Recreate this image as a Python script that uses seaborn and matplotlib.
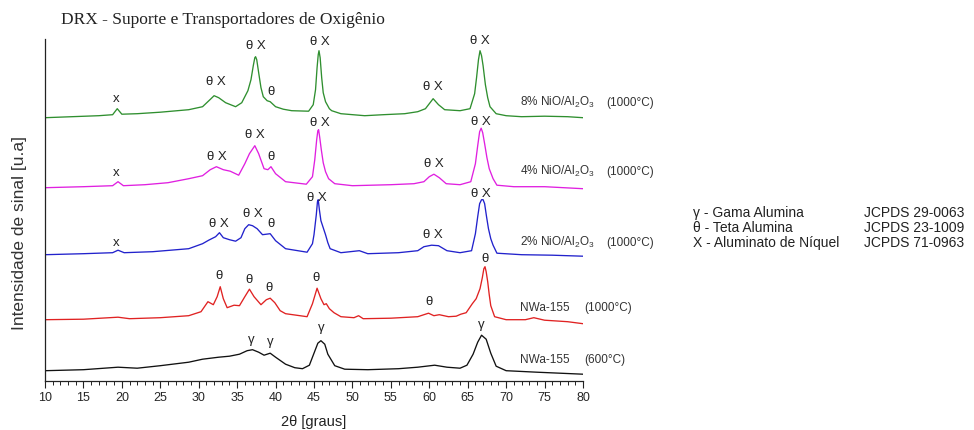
import matplotlib
matplotlib.use("Agg")
import matplotlib.pyplot as plt
from matplotlib.ticker import MultipleLocator
import seaborn as sns

# --- data: 2theta [graus] and intensity above each trace's baseline [u.a] ---
tt_8 = [10, 13.5, 17, 18.8, 19.4, 20.0, 22, 25, 28.7, 30.5, 31.6, 32.0, 32.6, 33.5, 34.8, 35.6, 36.4, 36.8,
        37.1, 37.3, 37.4, 37.55, 37.8, 38.1, 38.4, 38.9, 39.3, 40.0, 41.0, 42.1, 44.3, 44.9, 45.2, 45.4,
        45.55, 45.65, 45.8, 46.0, 46.2, 46.5, 47.0, 47.3, 48.5, 51.6, 54, 56.8, 58.5, 59.5, 60.5, 61.2,
        62.0, 64.0, 65.3, 65.9, 66.15, 66.4, 66.6, 66.8, 67.0, 67.3, 67.6, 67.9, 68.7, 70, 72, 75, 78, 80]
i_8 = [0, 1, 2, 3, 9, 3.5, 4, 5.5, 8, 11, 19, 22, 20, 15, 11, 15, 27, 38,
       52, 60, 61, 58, 45, 30, 21, 17, 16, 11, 8.5, 7, 6.5, 13, 28, 50,
       63, 67, 60, 40, 25, 16, 9, 7, 4, 2, 3, 4, 6, 9, 19, 13,
       8, 7, 9, 24, 40, 58, 67, 62, 52, 33, 20, 11, 4, 2, 1, 1.5, 1, 0]

tt_4 = [10, 15, 18.8, 19.5, 20.2, 23, 26, 28.7, 30.5, 31.5, 32.3, 33.2, 34.1, 35.2, 36.0, 36.6, 37.3,
        37.8, 38.5, 39.0, 39.4, 40.0, 41.3, 44.0, 44.8, 45.1, 45.35, 45.5, 45.6, 45.75, 45.95, 46.2,
        46.5, 46.9, 47.7, 50, 55, 58.0, 59.3, 60.0, 60.6, 61.3, 62.2, 64.0, 65.4, 66.0, 66.3, 66.55,
        66.75, 66.95, 67.2, 67.5, 67.8, 68.3, 68.8, 71, 75, 80]
i_4 = [0, 1, 2, 6, 2, 3, 5, 9, 12, 18, 21, 18, 16.5, 12.5, 24, 34, 42,
       34, 19, 18, 21, 14, 6, 3.5, 11, 28, 48, 57, 58, 50, 38, 25,
       16, 9, 4, 2, 3, 4, 6, 11, 13.5, 10, 4, 3, 6, 24, 42, 56,
       59.5, 55, 44, 30, 19, 9, 2.5, 1, 1, -1]

tt_2 = [10, 15, 18.8, 19.5, 20.3, 24, 28.7, 30.5, 31.3, 32.2, 32.7, 33.2, 34.0, 34.8, 35.5, 36.0, 36.5,
        37.0, 37.6, 38.3, 39.3, 40.0, 41.3, 44.1, 44.8, 45.0, 45.3, 45.45, 45.55, 45.7, 45.9, 46.2,
        46.5, 46.8, 47.1, 48.5, 50.9, 52, 56, 58.5, 59.3, 60.3, 61.2, 62.3, 64.0, 65.5, 66.0, 66.3,
        66.55, 66.8, 67.0, 67.2, 67.45, 67.7, 68.0, 68.3, 68.8, 72, 76, 80]
i_2 = [0, 1, 2, 4.5, 2, 3, 6, 11, 14.5, 18, 22, 17, 15, 13.5, 17, 26, 30,
       29, 26, 20, 21, 14, 6, 2.5, 11, 20, 40, 53, 55, 45, 34, 27,
       20, 12, 6, 2, 4, 1, 2, 4, 8, 9.5, 9, 4, 2, 4, 21, 38,
       51, 55, 55, 51, 38, 26, 16, 9.5, 1.5, 0, -0.5, -1.5]

tt_n1000 = [10, 15, 19.5, 21, 25, 28.7, 30.3, 31.2, 31.9, 32.4, 32.8, 33.2, 33.7, 34.6, 35.3, 36.0, 36.6,
            37.2, 38.1, 38.8, 39.3, 39.9, 40.6, 41.3, 44.1, 44.8, 45.4, 45.9, 46.3, 46.6, 47.0, 47.6,
            48.5, 50.2, 50.8, 51.4, 55, 58.5, 59.9, 60.6, 61.3, 62.5, 63.5, 64.1, 64.8, 65.6, 66.1,
            66.6, 66.9, 67.1, 67.25, 67.4, 67.6, 67.8, 68.0, 68.5, 70, 72.5, 73.6, 75, 78, 80]
i_n1000 = [0, 0.5, 2.5, 1, 2, 4, 8, 18, 15, 23, 33, 21, 12, 14.5, 14, 23, 30.5,
           23, 15, 20, 21.5, 17, 9, 6, 3, 16, 31.5, 21, 15, 16, 11, 7,
           3, 2, 4, 1, 1.5, 3, 6.5, 4, 5, 3, 3.5, 5.5, 7, 16, 21,
           31, 42, 51, 53, 48, 38, 25, 14, 3, 0, 0, 2, -0.5, -2, -4]

tt_n600 = [10, 15, 19.5, 22, 25, 28.7, 30.5, 32.6, 34.0, 35.3, 36.3, 37.0, 37.8, 38.5, 39.3, 40.0, 41.3,
           42.5, 43.5, 44.4, 44.9, 45.5, 45.9, 46.4, 46.8, 47.7, 49, 52, 56, 58.5, 60.7, 62.3, 64.0,
           64.9, 65.7, 66.3, 66.8, 67.4, 68.0, 68.7, 70, 74, 80]
i_n600 = [0, 1, 3.5, 2.5, 5, 8.5, 11.5, 13.5, 14.5, 16.5, 20, 21, 18.5, 15.5, 17.5, 13.5, 6.5,
          3, 2, 5.5, 15.5, 27.5, 30, 26.5, 16.5, 5, 1.5, 1, 2, 3.5, 5.5, 3.5, 2.5,
          5.5, 16.5, 28.5, 35.5, 31.5, 17.5, 4.5, 0, -1.5, -3.5]

samples = ["8% NiO/Al$_2$O$_3$", "4% NiO/Al$_2$O$_3$", "2% NiO/Al$_2$O$_3$", "NWa-155", "NWa-155"]
temps = ["(1000°C)", "(1000°C)", "(1000°C)", "(1000°C)", "(600°C)"]
traces = [(tt_8, i_8), (tt_4, i_4), (tt_2, i_2), (tt_n1000, i_n1000), (tt_n600, i_n600)]

# stacking offsets and colours
offsets = [263, 193, 126, 61, 10]
colors = ["#2f8f2f", "#e020e0", "#2222cc", "#e02222", "#111111"]

# phase tags above peaks: (2theta, y, text)
tags = [
    (19.3, 283, "x"), (32.2, 300, "θ X"), (37.4, 336, "θ X"), (39.4, 290, "θ"),
    (45.8, 340, "θ X"), (60.5, 295, "θ X"), (66.6, 341, "θ X"),
    (19.3, 209, "x"), (32.4, 225, "θ X"), (37.3, 247, "θ X"), (39.4, 225, "θ"),
    (45.7, 259, "θ X"), (60.6, 218, "θ X"), (66.7, 260, "θ X"),
    (19.3, 139, "x"), (32.6, 158, "θ X"), (37.1, 168, "θ X"), (39.4, 158, "θ"),
    (45.4, 184, "θ X"), (60.5, 147, "θ X"), (66.7, 188, "θ X"),
    (32.6, 106, "θ"), (36.6, 102, "θ"), (39.2, 94, "θ"), (45.3, 104, "θ"),
    (59.9, 80, "θ"), (67.2, 123, "θ"),
    (36.8, 42, "γ"), (39.3, 40, "γ"), (45.9, 54, "γ"), (66.7, 57, "γ"),
]
label_y = [279, 210, 139, 74, 22]

phases = ["γ - Gama Alumina", "θ - Teta Alumina", "X - Aluminato de Níquel"]
cards = ["JCPDS 29-0063", "JCPDS 23-1009", "JCPDS 71-0963"]

sns.set_theme(style="ticks")
plt.rcParams["font.family"] = ["Liberation Sans", "DejaVu Sans"]
plt.rcParams["mathtext.fontset"] = "custom"
plt.rcParams["mathtext.rm"] = "Liberation Sans"
plt.rcParams["mathtext.it"] = "Liberation Sans:italic"
plt.rcParams["mathtext.bf"] = "Liberation Sans:bold"

fig = plt.figure(figsize=(9.74, 4.31), dpi=100)
ax = fig.add_axes([45 / 974, 1 - 381.7 / 431, 538 / 974, 341.7 / 431])

for (tt, inten), off, c in zip(traces, offsets, colors):
    sns.lineplot(x=tt, y=[v + off for v in inten], ax=ax, color=c, linewidth=0.95)

for x, y, t in tags:
    ax.text(x, y, t, ha="center", va="center", fontsize=9.5, color="#222222")

for name, temp, y in zip(samples, temps, label_y):
    ax.text(71.8, y, name, ha="left", va="center", fontsize=8.5, color="#333333", clip_on=False)
    tx = 83.0 if "NiO" in name else 80.1
    ax.text(tx, y, temp, ha="left", va="center", fontsize=8.5, color="#333333", clip_on=False)

for k, (p, cd) in enumerate(zip(phases, cards)):
    ypx = 213 + 15 * k
    fig.text(693 / 974, 1 - ypx / 431, p, ha="left", va="center", fontsize=10, color="#222222")
    fig.text(864 / 974, 1 - ypx / 431, cd, ha="left", va="center", fontsize=10, color="#222222")

ax.set_xlim(10, 80)
ax.set_ylim(0, 341.7)
ax.xaxis.set_major_locator(MultipleLocator(5))
ax.xaxis.set_minor_locator(MultipleLocator(1))
ax.set_yticks([])
ax.tick_params(axis="x", which="major", length=5, width=0.8, labelsize=9, pad=2.5, direction="out", color="#222222")
ax.tick_params(axis="x", which="minor", length=3, width=0.7, direction="out", color="#222222")
for s in ["top", "right"]:
    ax.spines[s].set_visible(False)
for s in ["left", "bottom"]:
    ax.spines[s].set_linewidth(0.9)
    ax.spines[s].set_color("#222222")

ax.set_xlabel("2θ [graus]", fontsize=10.5, labelpad=8, color="#222222")
ax.set_ylabel("Intensidade de sinal [u.a]", fontsize=12.5, color="#333333", va="center")
ax.yaxis.set_label_coords(-0.048, 0.435)

fig.text(61 / 974, 1 - 20 / 431, "DRX - Suporte e Transportadores de Oxigênio", ha="left", va="center",
         fontsize=12.5, family=["Liberation Serif", "DejaVu Serif"], color="#222222")

fig.savefig("out.png", dpi=100)
